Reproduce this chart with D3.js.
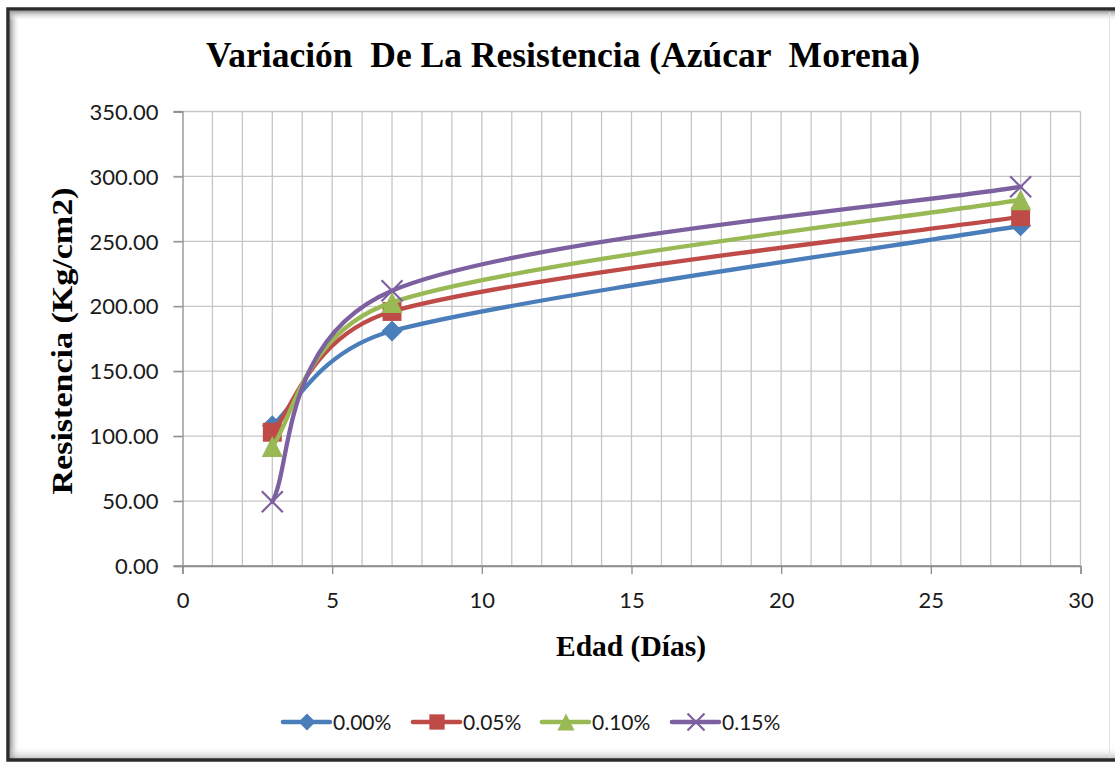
<!DOCTYPE html>
<html>
<head>
<meta charset="utf-8" />
<title>Variación De La Resistencia</title>
<style>
  body { margin: 0; background: #fff; }
  svg { display: block; }
  .tick-label { font-family: Lato, "Open Sans", sans-serif; font-size: 22px; fill: #1a1a1a; }
  .legend-label { font-family: Lato, "Open Sans", sans-serif; font-size: 21px; fill: #1a1a1a; }
  .serif-title { font-family: "Liberation Serif", "DejaVu Serif", serif; font-weight: bold; fill: #000; }
</style>
</head>
<body>
<svg id="chart" width="1115" height="764"></svg>
<script src="https://d3js.org/d3.v7.min.js"></script>
<script>
// data
const edades = [3, 7, 28];
const series = ["0.00%", "0.05%", "0.10%", "0.15%"];
const res000 = [108, 181, 262];
const res005 = [103, 196, 269];
const res010 = [92, 203, 282];
const res015 = [49.5, 212, 292];
const yTicks = [0, 50, 100, 150, 200, 250, 300, 350];
const xTicks = [0, 5, 10, 15, 20, 25, 30];

const colors = ["#4a7ebb", "#be4b48", "#98b954", "#7d60a0"];
const markers = ["diamond", "square", "triangle", "cross"];
const allValues = [res000, res005, res010, res015];

const W = 1115, H = 764;
const svg = d3.select("#chart");

// background + frame with soft inner shadow
const defs = svg.append("defs");
function grad(id, x1, y1, x2, y2) {
  const g = defs.append("linearGradient").attr("id", id)
    .attr("x1", x1).attr("y1", y1).attr("x2", x2).attr("y2", y2);
  g.append("stop").attr("offset", "0%").attr("stop-color", "#9a9a9a");
  g.append("stop").attr("offset", "100%").attr("stop-color", "#ffffff").attr("stop-opacity", 0);
}
grad("shL", "0", "0", "1", "0");
grad("shT", "0", "0", "0", "1");
grad("shB", "0", "1", "0", "0");

svg.append("rect").attr("width", W).attr("height", H).attr("fill", "#fff");
svg.append("rect").attr("x", 10).attr("y", 11).attr("width", 10).attr("height", 748).attr("fill", "url(#shL)");
svg.append("rect").attr("x", 10).attr("y", 11).attr("width", W).attr("height", 10).attr("fill", "url(#shT)");
svg.append("rect").attr("x", 10).attr("y", 746).attr("width", W).attr("height", 13).attr("fill", "url(#shB)").attr("opacity", 0.6);
svg.append("rect").attr("x", 8).attr("y", 9).attr("width", W + 20).attr("height", 751)
  .attr("fill", "none").attr("stroke", "#2b2b2b").attr("stroke-width", 3.5);
svg.append("line").attr("x1", 1109.5).attr("x2", 1109.5).attr("y1", 12).attr("y2", 758)
  .attr("stroke", "#e3e3e3").attr("stroke-width", 1);

// scales
const x = d3.scaleLinear().domain([0, 30]).range([182.5, 1080.5]);
const y = d3.scaleLinear().domain([0, 350]).range([566, 111.5]);

// gridlines
const grid = svg.append("g");
grid.selectAll(".vg").data(d3.range(1, 31)).enter().append("line")
  .attr("x1", d => x(d)).attr("x2", d => x(d))
  .attr("y1", y(350)).attr("y2", y(0))
  .attr("stroke", "#c6c6c6").attr("stroke-width", 1.3);
grid.selectAll(".hg").data(yTicks).enter().append("line")
  .attr("x1", x(0) - 9).attr("x2", x(30))
  .attr("y1", d => y(d)).attr("y2", d => y(d))
  .attr("stroke", d => d === 0 ? "#8c8c8c" : "#c6c6c6").attr("stroke-width", 1.3);

// axes
const xAxis = svg.append("g").attr("transform", `translate(0,${y(0)})`)
  .call(d3.axisBottom(x).tickValues(xTicks).tickSize(8).tickFormat(d3.format("d")));
const yAxis = svg.append("g").attr("transform", `translate(${x(0)},0)`)
  .call(d3.axisLeft(y).tickValues(yTicks).tickSize(9).tickFormat(d3.format(".2f")));
[xAxis, yAxis].forEach(a => {
  a.select(".domain").attr("stroke", "#8c8c8c").attr("stroke-width", 1.3);
  a.selectAll(".tick line").attr("stroke", "#8c8c8c").attr("stroke-width", 1.3);
  a.selectAll(".tick text").attr("class", "tick-label").attr("fill", null);
});
xAxis.selectAll(".tick text").attr("y", 26);
yAxis.selectAll(".tick text").attr("x", -24).attr("dy", "0.35em");

// Excel-style smoothed line: cardinal bezier, control arms clipped to half the segment
function smoothPath(pts) {
  const p = pts.map(d => [x(d[0]), y(d[1])]);
  const dist = (a, b) => Math.hypot(b[0] - a[0], b[1] - a[1]);
  const path = d3.path();
  path.moveTo(p[0][0], p[0][1]);
  for (let i = 0; i < p.length - 1; i++) {
    const p0 = p[Math.max(i - 1, 0)], p1 = p[i], p2 = p[i + 1], p3 = p[Math.min(i + 2, p.length - 1)];
    const d12 = dist(p1, p2), d02 = dist(p0, p2), d13 = dist(p1, p3);
    const f0 = d02 / 6 < d12 / 2 ? 1 / 6 : d12 / (2 * d02);
    const f1 = d13 / 6 < d12 / 2 ? 1 / 6 : d12 / (2 * d13);
    path.bezierCurveTo(
      p1[0] + (p2[0] - p0[0]) * f0, p1[1] + (p2[1] - p0[1]) * f0,
      p2[0] - (p3[0] - p1[0]) * f1, p2[1] - (p3[1] - p1[1]) * f1,
      p2[0], p2[1]);
  }
  return path.toString();
}

function drawMarker(g, type, color, cx, cy, s) {
  if (type === "diamond") {
    g.append("path").attr("d", `M${cx},${cy - s / 2}L${cx + s / 2},${cy}L${cx},${cy + s / 2}L${cx - s / 2},${cy}Z`)
      .attr("fill", color);
  } else if (type === "square") {
    g.append("rect").attr("x", cx - s * 0.45).attr("y", cy - s * 0.45)
      .attr("width", s * 0.9).attr("height", s * 0.9).attr("fill", color);
  } else if (type === "triangle") {
    g.append("path").attr("d", `M${cx},${cy - s / 2}L${cx + s / 2},${cy + s / 2}L${cx - s / 2},${cy + s / 2}Z`)
      .attr("fill", color);
  } else {
    const h = s / 2;
    g.append("path").attr("d", `M${cx - h},${cy - h}L${cx + h},${cy + h}M${cx + h},${cy - h}L${cx - h},${cy + h}`)
      .attr("stroke", color).attr("stroke-width", 2.2).attr("fill", "none");
  }
}

series.forEach((name, i) => {
  const pts = edades.map((e, j) => [e, allValues[i][j]]);
  const g = svg.append("g");
  g.append("path").attr("d", smoothPath(pts))
    .attr("fill", "none").attr("stroke", colors[i]).attr("stroke-width", 4.3)
    .attr("stroke-linecap", "round");
  pts.forEach(p => drawMarker(g, markers[i], colors[i], x(p[0]), y(p[1]), 21));
});

// titles
svg.append("text").attr("class", "serif-title")
  .attr("x", 563).attr("y", 67).attr("text-anchor", "middle")
  .attr("font-size", 35.5).style("white-space", "pre")
  .text("Variación  De La Resistencia (Azúcar  Morena)");
svg.append("text").attr("class", "serif-title")
  .attr("x", 631).attr("y", 656).attr("text-anchor", "middle")
  .attr("font-size", 29.5)
  .text("Edad (Días)");
svg.append("text").attr("class", "serif-title")
  .attr("transform", "translate(72,341) rotate(-90)")
  .attr("text-anchor", "middle").attr("font-size", 30)
  .attr("textLength", 307).attr("lengthAdjust", "spacingAndGlyphs")
  .text("Resistencia (Kg/cm2)");

// legend
const legend = svg.append("g");
const legX = [283, 413, 542, 672];
series.forEach((name, i) => {
  const g = legend.append("g");
  const lx = legX[i], ly = 722;
  g.append("line").attr("x1", lx).attr("x2", lx + 47).attr("y1", ly).attr("y2", ly)
    .attr("stroke", colors[i]).attr("stroke-width", 4.6).attr("stroke-linecap", "round");
  drawMarker(g, markers[i], colors[i], lx + 24, ly, 17);
  g.append("text").attr("class", "legend-label")
    .attr("x", lx + 50).attr("y", ly).attr("dy", "0.36em").text(name);
});
</script>
</body>
</html>
